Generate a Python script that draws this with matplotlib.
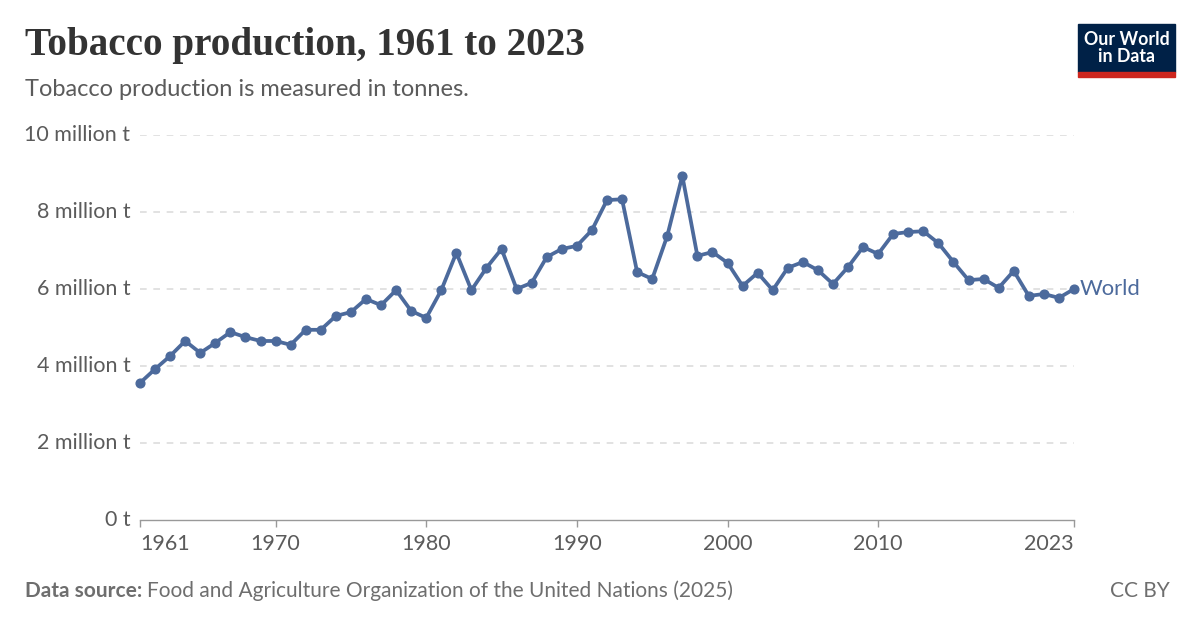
import matplotlib.pyplot as plt
from matplotlib.patches import Rectangle

# world tobacco production, million tonnes
years = list(range(1961, 2024))
production = [
    3.56, 3.92, 4.26, 4.65, 4.34, 4.60, 4.88, 4.75, 4.65, 4.65,
    4.55, 4.94, 4.94, 5.30, 5.40, 5.74, 5.58, 5.97, 5.43, 5.25,
    5.97, 6.94, 5.97, 6.55, 7.04, 6.00, 6.16, 6.83, 7.04, 7.12,
    7.53, 8.31, 8.33, 6.44, 6.26, 7.38, 8.94, 6.86, 6.96, 6.68,
    6.08, 6.42, 5.97, 6.55, 6.70, 6.49, 6.13, 6.57, 7.09, 6.91,
    7.43, 7.48, 7.50, 7.19, 6.70, 6.23, 6.26, 6.03, 6.47, 5.82,
    5.87, 5.77, 6.00,
]
y_ticks = [0, 2, 4, 6, 8, 10]
y_labels = ["0 t", "2 million t", "4 million t", "6 million t", "8 million t", "10 million t"]
x_ticks = [1961, 1970, 1980, 1990, 2000, 2010, 2023]

line_col = "#4c6a9c"
grey = "#5b5b5b"

plt.rcParams['font.family'] = ['Lato', 'DejaVu Sans']

fig = plt.figure(figsize=(12, 6.27), dpi=100)
ax = fig.add_axes([140 / 1200, 1 - 520 / 627, 934 / 1200, 385 / 627])

ax.plot(years, production, color=line_col, lw=2.7, marker='o', ms=6.3,
        solid_joinstyle='round', clip_on=False, zorder=3)
ax.text(2023.4, production[-1], "World", color=line_col, fontsize=15.8,
        va='center', ha='left')

ax.set_xlim(1961, 2023)
ax.set_ylim(0, 10)
ax.set_yticks(y_ticks)
ax.set_yticklabels(y_labels)
ax.set_xticks(x_ticks)
ax.set_xticklabels([str(x) for x in x_ticks])

for s in ['top', 'right', 'left']:
    ax.spines[s].set_visible(False)
ax.spines['bottom'].set_color('#999999')
ax.spines['bottom'].set_linewidth(1)

ax.tick_params(axis='y', length=0, pad=7, labelsize=15.5, labelcolor=grey)
ax.tick_params(axis='x', length=5, width=1, color='#999999', pad=5,
               labelsize=15.5, labelcolor=grey)
for t in ax.get_yticklabels():
    t.set_verticalalignment('center')
xt = ax.get_xticklabels()
xt[0].set_horizontalalignment('left')
xt[-1].set_horizontalalignment('right')

for v in y_ticks[1:]:
    ax.axhline(v, color='#dddddd', lw=1.2, ls=(0, (4, 4)), zorder=1)

# title, subtitle
fig.text(25 / 1200, 1 - 46 / 627, "Tobacco production, 1961 to 2023",
         family='Liberation Serif', fontsize=28.2, fontweight='bold',
         color='#333333', va='center')
fig.text(25 / 1200, 1 - 89 / 627, "Tobacco production is measured in tonnes.",
         fontsize=17, color=grey, va='center')

# logo
fig.patches.append(Rectangle((1078 / 1200, 1 - 72 / 627), 97 / 1200, 48 / 627,
                             transform=fig.transFigure, color='#002147'))
fig.patches.append(Rectangle((1078 / 1200, 1 - 77 / 627), 97 / 1200, 5 / 627,
                             transform=fig.transFigure, color='#ce261e'))
fig.text(1126.5 / 1200, 1 - 48 / 627, "Our World\nin Data", color='white',
         fontsize=12.8, fontweight='bold', ha='center', va='center', linespacing=1.0)

# footer
src = fig.text(25 / 1200, 1 - 591 / 627, "Data source:", fontsize=15,
               fontweight='bold', color='#6e6e6e', va='center')
fig.canvas.draw()
bb = src.get_window_extent()
fig.text((bb.x1 + 5) / 1200, 1 - 591 / 627,
         "Food and Agriculture Organization of the United Nations (2025)",
         fontsize=15, color='#6e6e6e', va='center')
fig.text(1170 / 1200, 1 - 591 / 627, "CC BY", fontsize=15, color='#6e6e6e',
         va='center', ha='right')

fig.savefig("out.png", dpi=100)
